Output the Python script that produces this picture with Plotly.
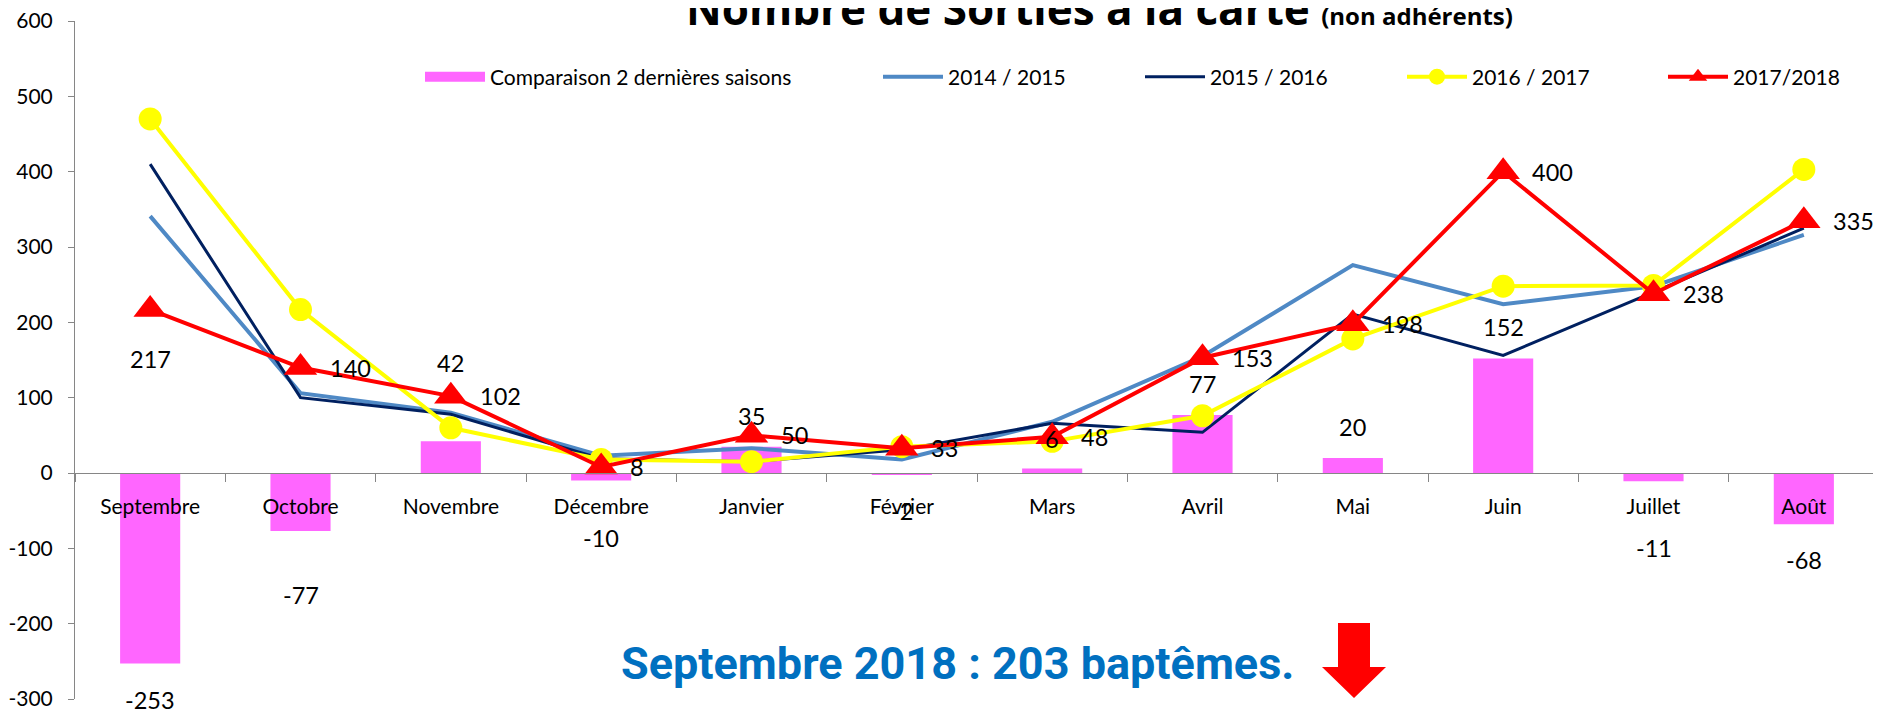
import plotly.graph_objects as go

months = ["Septembre", "Octobre", "Novembre", "Décembre", "Janvier", "Février",
          "Mars", "Avril", "Mai", "Juin", "Juillet", "Août"]
comparaison = [-253, -77, 42, -10, 35, -2, 6, 77, 20, 152, -11, -68]
s2014_2015 = [341, 106, 80, 23, 33, 18, 68, 155, 276, 224, 248, 316]
s2015_2016 = [410, 100, 78, 19, 15, 31, 66, 54, 211, 156, 240, 325]
s2016_2017 = [470, 217, 60, 18, 15, 35, 42, 76, 178, 248, 249, 403]
s2017_2018 = [217, 140, 102, 8, 50, 33, 48, 153, 198, 400, 238, 335]
ytick_vals = [-300, -200, -100, 0, 100, 200, 300, 400, 500, 600]
ytick_text = ["-300", "-200", "-100", "0", "100", "200", "300", "400", "500", "600"]

# label placement styles (pixel offsets, not data)
bar_label_shift = [-36, -64, 78, -57, 31, -36, 29, 31, 31, 31, -67, -36]
red_label_side = ["below"] + ["right"] * 11

W, H = 1881, 711
OFF = 8  # page body margin of the html page
ML, MR, MT, MB = 67, 10, 13, 20
PW, PH = W - ML - MR, H - MT - MB


def px(x):
    """page pixel x -> paper fraction"""
    return (x - OFF - ML) / PW


def py(y):
    """page pixel y -> paper fraction"""
    return (H - MB - (y - OFF)) / PH


FONT = "Lato, Open Sans, sans-serif"
PINK = "#FF66FF"
LBLUE = "#4F89C5"
NAVY = "#002060"
YEL = "#FFFF00"
RED = "#FF0000"

fig = go.Figure()
fig.add_trace(go.Bar(x=months, y=comparaison, marker=dict(color=PINK, line=dict(width=0)),
                     name="Comparaison 2 dernières saisons", showlegend=False))
# legend proxy for bar (wide swatch)
fig.add_trace(go.Scatter(x=[None], y=[None], mode="lines", line=dict(color=PINK, width=14),
                         name="Comparaison 2 dernières saisons", legend="legend"))
fig.add_trace(go.Scatter(x=months, y=s2014_2015, mode="lines", line=dict(color=LBLUE, width=4),
                         name="2014 / 2015", legend="legend2"))
fig.add_trace(go.Scatter(x=months, y=s2015_2016, mode="lines", line=dict(color=NAVY, width=3),
                         name="2015 / 2016", legend="legend3"))
fig.add_trace(go.Scatter(x=months, y=s2016_2017, mode="lines+markers", line=dict(color=YEL, width=4),
                         marker=dict(symbol="circle", size=23, color=YEL),
                         name="2016 / 2017", legend="legend4"))
fig.add_trace(go.Scatter(x=months, y=s2017_2018, mode="lines+markers", line=dict(color=RED, width=4),
                         marker=dict(symbol="triangle-up", size=29, color=RED),
                         name="2017/2018", legend="legend5"))

LABEL_FONT = dict(family=FONT, size=23.5, color="black")
ann = []
for m, v, s in zip(months, comparaison, bar_label_shift):
    ann.append(dict(x=m, y=v, text=str(v), showarrow=False, yshift=s, yanchor="middle",
                    xanchor="center", font=LABEL_FONT))
for m, v, side in zip(months, s2017_2018, red_label_side):
    if side == "below":
        ann.append(dict(x=m, y=v, text=str(v), showarrow=False, yshift=-49, yanchor="middle",
                        xanchor="center", font=LABEL_FONT))
    else:
        ann.append(dict(x=m, y=v, text=str(v), showarrow=False, xshift=27, yanchor="middle",
                        xanchor="left", font=LABEL_FONT))

# title (partly cut off at the top)
ann.append(dict(xref="paper", yref="paper", x=px(684), y=py(40), xanchor="left", yanchor="bottom",
                showarrow=False,
                text="<b>Nombre de Sorties à la carte</b> <b><span style='font-size:24px'>(non adhérents)</span></b>",
                font=dict(family="Open Sans, sans-serif", size=44, color="black")))
# bottom note
ann.append(dict(xref="paper", yref="paper", x=px(957), y=py(663), xanchor="center", yanchor="middle",
                showarrow=False, text="<b>Septembre 2018 : 203 baptêmes.</b>",
                font=dict(family="Roboto, Liberation Sans, sans-serif", size=45, color="#0070C0")))

shapes = [dict(type="path", xref="paper", yref="paper", fillcolor=RED, line=dict(width=0),
               path=("M{a},{t} L{b},{t} L{b},{hb} L{r},{hb} L{c},{tip} L{l},{hb} L{a},{hb} Z").format(
                   a=px(1338), b=px(1370), t=py(623), hb=py(667), r=px(1386), c=px(1354),
                   tip=py(698), l=px(1322)))]

legend_x = [420, 878, 1140, 1402, 1663]
legends = {}
for i, lx in enumerate(legend_x):
    key = "legend" if i == 0 else f"legend{i + 1}"
    legends[key] = dict(orientation="h", x=px(lx), y=py(77), xanchor="left", yanchor="middle",
                        font=dict(family=FONT, size=21, color="black"), bgcolor="rgba(0,0,0,0)",
                        itemwidth=60, borderwidth=0)

fig.update_layout(
    width=W, height=H, margin=dict(l=ML, r=MR, t=MT, b=MB),
    paper_bgcolor="white", plot_bgcolor="white",
    bargap=0.6, annotations=ann, shapes=shapes,
    font=dict(family=FONT, size=21, color="black"),
    xaxis=dict(range=[-0.5, 11.5], anchor="free", position=1 / 3, showline=True,
               linecolor="#868686", linewidth=1,
               ticks="outside", tickson="boundaries", ticklen=8, tickcolor="#868686",
               showgrid=False, zeroline=False, ticklabelstandoff=15, automargin=False,
               tickfont=dict(family=FONT, size=21, color="black")),
    yaxis=dict(range=[-300, 600], tickvals=ytick_vals, ticktext=ytick_text, showline=True,
               linecolor="#868686", linewidth=1, ticks="outside", ticklen=6, tickcolor="#868686",
               showgrid=False, zeroline=False, ticklabelstandoff=11, automargin=False,
               ticklabeloverflow="allow",
               tickfont=dict(family=FONT, size=21, color="black")),
    **legends,
)

fig.write_html("out.html")
